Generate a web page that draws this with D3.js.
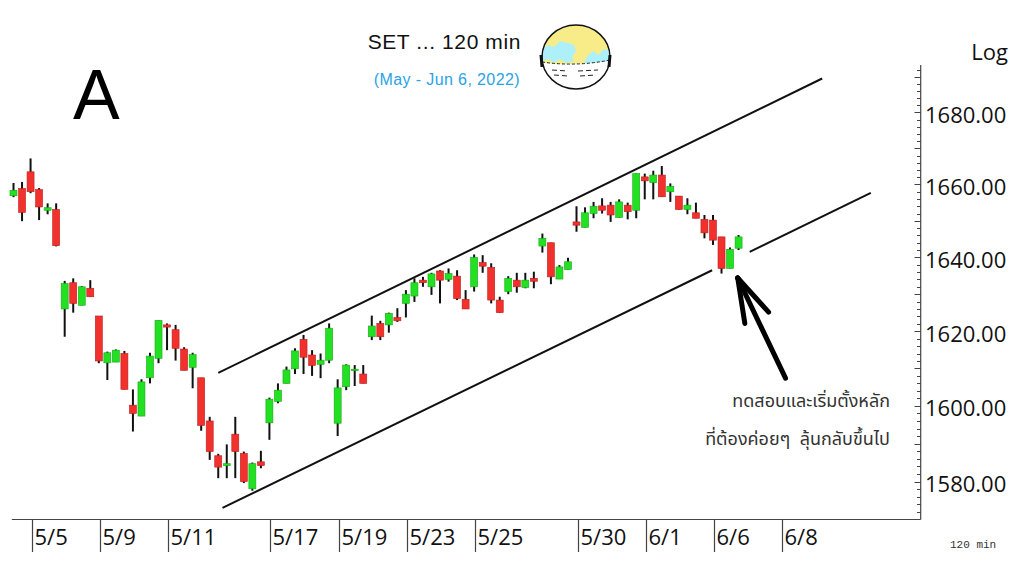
<!DOCTYPE html>
<html><head><meta charset="utf-8">
<script src="https://cdn.jsdelivr.net/npm/d3@7"></script>
<style>html,body{margin:0;padding:0;background:#fff;}svg{display:block;}</style>
</head><body>
<svg id="chart" width="1024" height="574"></svg>
<script>
// ---------- DATA ----------
const tradingDays = ['5/4','5/5','5/6','5/9','5/10','5/11','5/12','5/13','5/17','5/18','5/19','5/20','5/23','5/24','5/25','5/26','5/27','5/30','5/31','6/1','6/2','6/6','6/7','6/8'];
const labeledDays = ['5/5','5/9','5/11','5/17','5/19','5/23','5/25','5/30','6/1','6/6','6/8'];
const barsPerDay = 4;
const firstDayBarsShown = 2;

const openP  = [1656.9,1658.9,1663.5,1658.6,1652.9,1653.1,1626.0,1633.1,1627.0,1631.6,1624.1,1611.5,1611.7,1614.0,1600.2,1597.3,1607.5,1612.7,1621.7,1620.4,1615.2,1610.3,1607.5,1596.0,1586.8,1584.2,1592.5,1587.4,1578.1,1585.2,1595.5,1601.2,1606.0,1609.9,1617.8,1613.6,1611.1,1612.2,1595.4,1605.1,1609.4,1608.5,1618.5,1622.1,1621.7,1623.7,1627.5,1629.5,1633.8,1632.0,1636.3,1634.0,1634.9,1628.6,1632.0,1638.6,1637.3,1628.4,1630.7,1633.8,1631.8,1634.3,1643.1,1644.0,1634.1,1636.7,1649.7,1648.2,1652.0,1654.1,1654.3,1650.9,1654.3,1652.9,1662.1,1660.5,1662.6,1658.0,1656.8,1653.1,1652.2,1650.4,1650.2,1645.6,1637.0,1642.5];
const highP  = [1660.4,1660.7,1667.2,1659.0,1654.8,1654.8,1633.6,1634.3,1632.2,1633.8,1624.1,1614.5,1615.1,1614.7,1604.4,1607.1,1614.2,1622.9,1622.1,1621.7,1615.7,1614.2,1607.5,1597.1,1587.3,1589.8,1597.1,1587.9,1585.0,1588.1,1602.2,1606.0,1610.5,1615.4,1619.0,1614.9,1614.0,1622.1,1607.1,1611.1,1610.9,1610.9,1624.2,1622.8,1625.0,1626.2,1631.1,1634.3,1634.7,1635.8,1636.5,1637.0,1636.5,1631.1,1640.8,1640.6,1638.4,1629.3,1634.9,1635.8,1635.8,1636.1,1646.5,1644.0,1637.9,1639.9,1654.0,1653.7,1655.2,1656.2,1655.2,1655.9,1655.0,1663.0,1663.0,1663.8,1665.1,1660.3,1656.8,1656.2,1655.0,1651.6,1651.6,1645.6,1642.7,1646.1];
const lowP   = [1656.5,1649.9,1657.6,1650.2,1651.8,1643.0,1618.5,1625.0,1627.0,1629.3,1611.4,1606.9,1611.7,1604.4,1593.2,1597.3,1606.0,1611.4,1614.9,1612.1,1609.5,1604.7,1593.4,1585.7,1580.9,1580.9,1580.9,1579.6,1577.6,1583.5,1591.0,1600.7,1606.0,1608.5,1608.5,1608.0,1607.4,1611.4,1592.0,1604.2,1605.3,1606.0,1617.6,1617.6,1619.6,1622.5,1623.7,1627.9,1632.0,1629.8,1627.5,1633.4,1628.4,1626.0,1630.7,1635.8,1627.5,1625.0,1630.0,1630.4,1631.6,1631.6,1641.3,1632.7,1634.1,1636.7,1647.0,1648.2,1650.7,1652.0,1649.7,1650.9,1650.4,1650.7,1655.9,1655.9,1656.6,1655.2,1653.1,1651.8,1650.7,1645.2,1643.4,1635.6,1637.0,1642.0];
const closeP = [1658.4,1652.3,1658.0,1653.8,1653.6,1643.2,1632.9,1627.5,1632.0,1629.3,1612.0,1614.2,1614.9,1604.4,1598.0,1606.4,1613.3,1622.9,1621.1,1615.4,1609.5,1613.7,1594.8,1587.9,1583.8,1584.7,1587.9,1580.0,1584.7,1584.2,1601.8,1604.2,1609.6,1614.7,1613.0,1610.8,1612.2,1620.8,1604.8,1610.9,1609.8,1606.0,1621.4,1618.5,1624.8,1622.8,1630.0,1633.1,1633.1,1635.5,1633.8,1635.6,1628.8,1626.0,1640.0,1637.6,1628.4,1625.0,1634.3,1632.0,1633.8,1633.5,1645.2,1634.7,1637.4,1638.8,1648.8,1652.2,1654.0,1652.9,1651.6,1655.2,1652.5,1663.0,1661.0,1662.6,1656.6,1659.5,1653.1,1654.3,1650.7,1646.7,1644.7,1637.0,1642.2,1645.6];

// Channel lines (bar index, price)
const upperChannel = [[24.0,1608.8],[94.8,1689.5]];
const lowerChannelA = [[24.5,1573.1],[81.9,1636.5]];
const lowerChannelB = [[86.3,1641.5],[100.5,1657.7]];
// Arrow (tail -> tip) in (bar index, price)
const arrowPts = [[90.5,1607.4],[84.9,1634.4]];

const yLabelVals = [1580,1600,1620,1640,1660,1680];
const yDomain = [1570.2,1693.3];
const xDomain = [-0.2,106.35];

const titleText = 'SET ... 120 min';
const subtitleText = '(May - Jun 6, 2022)';
const noteLines = ['ทดสอบและเริ่มตั้งหลัก','ที่ต้องค่อยๆ\u00a0 ลุ้นกลับขึ้นไป'];

// ---------- CHART ----------
const svg = d3.select('#chart');
const x = d3.scaleLinear().domain(xDomain).range([11.8, 920.7]);
const y = d3.scaleLog().domain(yDomain).range([519, 65]);

const bars = openP.map((o,i)=>({i, o, h:highP[i], l:lowP[i], c:closeP[i]}));

// axes frame
const axisColor = '#444';
svg.append('line').attr('x1', x(xDomain[0])).attr('x2', x(xDomain[1])).attr('y1', 519.5).attr('y2', 519.5)
  .attr('stroke', axisColor).attr('stroke-width', 1.2);
svg.append('line').attr('x1', 920.7).attr('x2', 920.7).attr('y1', 65).attr('y2', 519.5)
  .attr('stroke', axisColor).attr('stroke-width', 1.2);

// y ticks
const minorTicks = d3.range(1572, 1694, 2);
svg.append('g').selectAll('line').data(minorTicks).join('line')
  .attr('x1', d => d % 10 === 0 ? 914.5 : 917)
  .attr('x2', 920.7)
  .attr('y1', d => Math.round(y(d))+0.5).attr('y2', d => Math.round(y(d))+0.5)
  .attr('stroke', axisColor).attr('stroke-width', 1);

svg.append('g').selectAll('text').data(yLabelVals).join('text')
  .attr('x', 925).attr('y', d => y(d) + 10.5)
  .attr('font-family', '"Open Sans", sans-serif').attr('font-size', 22).attr('fill', '#111')
  .text(d => d3.format('.2f')(d));

svg.append('text').attr('x', 1008).attr('y', 60).attr('text-anchor', 'end')
  .attr('font-family', '"Open Sans", sans-serif').attr('font-size', 22).attr('fill', '#111').text('Log');

// x date separators + labels
const dayFirstBar = d => tradingDays.indexOf(d) * barsPerDay - (barsPerDay - firstDayBarsShown);
const xt = svg.append('g');
labeledDays.forEach(d => {
  const px = Math.round(x(dayFirstBar(d))) + 1.5;
  xt.append('line').attr('x1', px).attr('x2', px).attr('y1', 519.5).attr('y2', 552)
    .attr('stroke', axisColor).attr('stroke-width', 1.2);
  xt.append('text').attr('x', px + 2).attr('y', 545)
    .attr('font-family', '"Open Sans", sans-serif').attr('font-size', 22).attr('fill', '#111').text(d);
});

svg.append('text').attr('x', 950).attr('y', 548)
  .attr('font-family', '"Liberation Mono", monospace').attr('font-size', 11).attr('fill', '#333').text('120 min');

// channel lines
const line = d3.line().x(d => x(d[0])).y(d => y(d[1]));
[upperChannel, lowerChannelA, lowerChannelB].forEach(seg => {
  svg.append('path').attr('d', line(seg)).attr('fill', 'none').attr('stroke', '#111').attr('stroke-width', 2);
});

// candles
const bw = 7;
const g = svg.append('g');
g.selectAll('line.wick').data(bars).join('line').attr('class','wick')
  .attr('x1', d => x(d.i)).attr('x2', d => x(d.i))
  .attr('y1', d => y(d.h)).attr('y2', d => y(d.l))
  .attr('stroke', '#111').attr('stroke-width', 2);
g.selectAll('rect').data(bars).join('rect')
  .attr('x', d => x(d.i) - bw/2)
  .attr('y', d => y(Math.max(d.o, d.c)))
  .attr('width', bw)
  .attr('height', d => Math.max(1.5, Math.abs(y(d.o) - y(d.c))))
  .attr('fill', d => d.c >= d.o ? '#22e022' : '#f2302c')
  .attr('stroke', d => d.c >= d.o ? '#18a818' : '#b82020').attr('stroke-width', 0.6);

// arrow
const tail = [x(arrowPts[0][0]), y(arrowPts[0][1])];
const tip = [x(arrowPts[1][0]), y(arrowPts[1][1])];
const ang = Math.atan2(tail[1]-tip[1], tail[0]-tip[0]);
const armL = 46, spread = 0.29;
const ag = svg.append('g').attr('stroke', '#000').attr('stroke-width', 5).attr('stroke-linecap', 'round').attr('fill','none');
ag.append('line').attr('x1', tail[0]).attr('y1', tail[1]).attr('x2', tip[0]).attr('y2', tip[1]);
[ang - spread, ang + spread].forEach(a => {
  ag.append('line').attr('x1', tip[0]).attr('y1', tip[1])
    .attr('x2', tip[0] + armL*Math.cos(a)).attr('y2', tip[1] + armL*Math.sin(a));
});

// note text
noteLines.forEach((t, k) => {
  svg.append('text').attr('x', 890).attr('y', 407 + k*38).attr('text-anchor', 'end')
    .attr('font-family', '"Noto Sans Thai", "Noto Sans", "DejaVu Sans", sans-serif').attr('font-size', 18).attr('fill', '#333').text(t);
});

// title
svg.append('text').attr('x', 521).attr('y', 49).attr('text-anchor', 'end')
  .attr('font-family', '"Liberation Sans", Arial, sans-serif').attr('font-size', 21).attr('letter-spacing', 0.6)
  .attr('fill', '#111').text(titleText);
svg.append('text').attr('x', 520).attr('y', 85).attr('text-anchor', 'end')
  .attr('font-family', '"Liberation Sans", Arial, sans-serif').attr('font-size', 16).attr('letter-spacing', 0.4)
  .attr('fill', '#2aa3e6').text(subtitleText);

// big "A"
svg.append('text').attr('x', 73).attr('y', 119)
  .attr('font-family', '"Liberation Sans", Arial, sans-serif').attr('font-size', 70).attr('fill', '#000').text('A');

// globe icon
const gl = svg.append('g').attr('transform', 'translate(576,57)');
const defs = svg.append('defs');
defs.append('clipPath').attr('id', 'globeClip').append('ellipse').attr('cx', 0).attr('cy', 0).attr('rx', 34).attr('ry', 32);
const gc = gl.append('g').attr('clip-path', 'url(#globeClip)');
gc.append('rect').attr('x', -40).attr('y', -40).attr('width', 80).attr('height', 80).attr('fill', '#f8ec88');
gc.append('path').attr('d', 'M-36,-6 L-28,-12 L-22,-10 L-16,-16 L-8,-14 L-2,-12 L0,-6 L-4,0 L-2,4 L-10,6 L-16,2 L-22,6 L-28,2 L-36,6 Z').attr('fill', '#aef0fa');
gc.append('path').attr('d', 'M12,-2 L18,-6 L22,-2 L28,-8 L36,-6 L36,8 L24,8 L14,10 L8,6 Z').attr('fill', '#aef0fa');
gc.append('path').attr('d', 'M-40,5 Q0,10 40,3 L40,40 L-40,40 Z').attr('fill', '#fff');
gc.append('path').attr('d', 'M-34,5 Q0,10 34,3').attr('fill', 'none').attr('stroke', '#222').attr('stroke-width', 1).attr('stroke-dasharray', '3,2');
gc.append('path').attr('d', 'M-24,13 L-8,14 M2,14 L22,13').attr('fill', 'none').attr('stroke', '#222').attr('stroke-width', 1).attr('stroke-dasharray', '5,3');
gc.append('path').attr('d', 'M-22,18 L-8,19 M4,19 L20,18').attr('fill', 'none').attr('stroke', '#222').attr('stroke-width', 1).attr('stroke-dasharray', '5,3');
gl.append('ellipse').attr('cx', 0).attr('cy', 0).attr('rx', 34).attr('ry', 32).attr('fill', 'none').attr('stroke', '#111').attr('stroke-width', 1.4);
gl.append('path').attr('d', 'M-35,-2 L-34,10 M34,-2 L33,10').attr('stroke', '#111').attr('stroke-width', 3);
</script>
</body></html>
